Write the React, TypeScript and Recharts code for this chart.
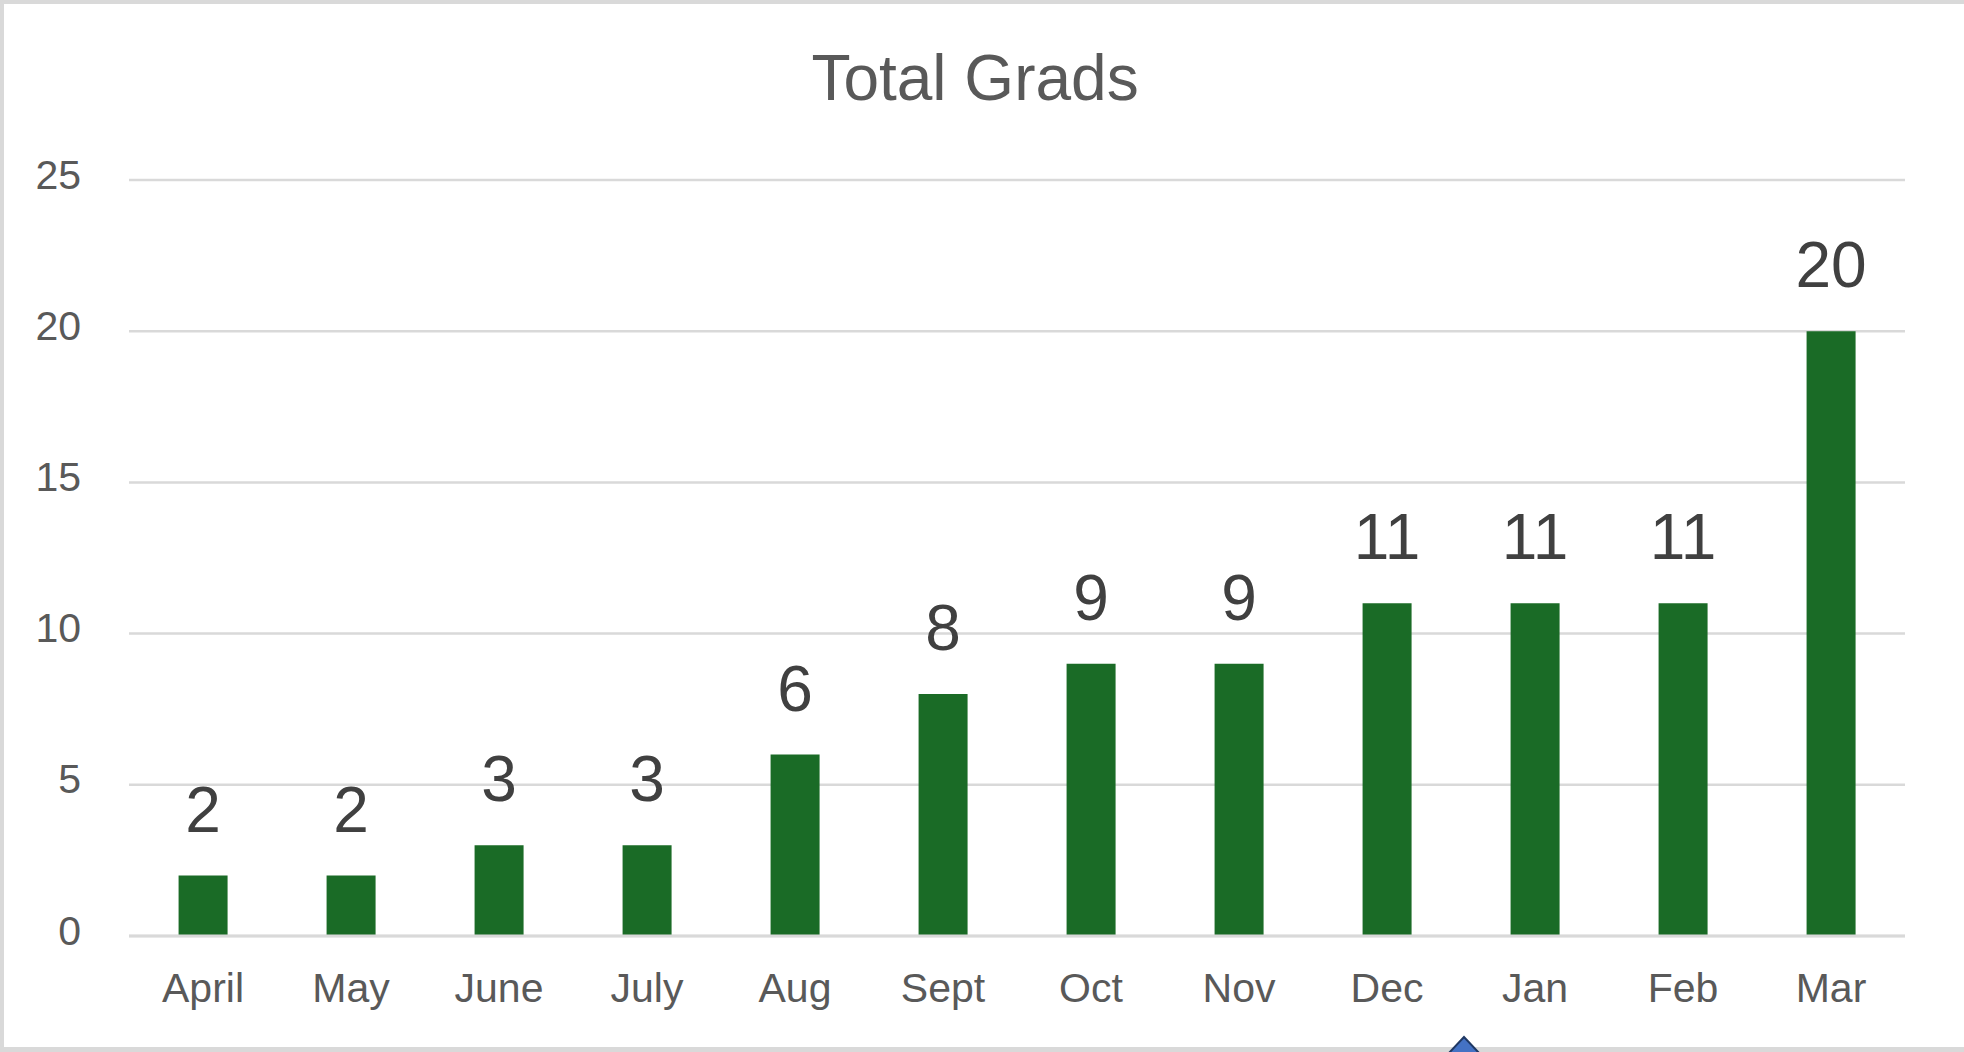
import React from 'react';
import { BarChart, Bar, XAxis, YAxis, CartesianGrid, LabelList } from 'recharts';

const months = ['April', 'May', 'June', 'July', 'Aug', 'Sept', 'Oct', 'Nov', 'Dec', 'Jan', 'Feb', 'Mar'];
const grads = [2, 2, 3, 3, 6, 8, 9, 9, 11, 11, 11, 20];
const yTicks = [0, 5, 10, 15, 20, 25];

const data = months.map((m, i) => ({ month: m, grads: grads[i] }));

const FONT = '"Liberation Sans", Arial, sans-serif';

const App: React.FC = () => {
  return (
    <div
      style={{
        position: 'fixed',
        left: 0,
        top: 0,
        width: 1964,
        height: 1052,
        background: '#ffffff',
        overflow: 'hidden',
        fontFamily: FONT,
      }}
    >
      {/* outer frame: left, top, bottom only */}
      <div
        style={{
          position: 'absolute',
          left: 0,
          top: 0,
          width: 1964,
          height: 1052,
          boxSizing: 'border-box',
          borderTop: '4px solid #d9d9d9',
          borderLeft: '4px solid #d9d9d9',
          borderBottom: '5px solid #d9d9d9',
        }}
      />
      <div
        style={{
          position: 'absolute',
          left: 0,
          top: 38,
          width: 1950,
          textAlign: 'center',
          fontSize: 64,
          color: '#595959',
          lineHeight: '80px',
        }}
      >
        Total Grads
      </div>
      <div style={{ position: 'absolute', left: 0, top: 0 }}>
        <BarChart
          width={1964}
          height={1052}
          data={data}
          margin={{ top: 180, right: 59, left: 0, bottom: 26 }}
          barCategoryGap="33.5%"
        >
          <CartesianGrid vertical={false} stroke="#d9d9d9" strokeWidth={2.5} />
          <XAxis
            dataKey="month"
            height={90}
            tickSize={0}
            tickMargin={37}
            axisLine={{ stroke: '#d9d9d9', strokeWidth: 3 }}
            tick={{ fill: '#595959', fontSize: 41, fontFamily: FONT }}
            interval={0}
          />
          <YAxis
            width={129}
            domain={[0, 25]}
            ticks={yTicks}
            tickSize={0}
            tickMargin={48}
            axisLine={false}
            tick={{ fill: '#595959', fontSize: 41, fontFamily: FONT, dy: -6 }}
          />
          <Bar dataKey="grads" fill="#1a6b26" isAnimationActive={false}>
            <LabelList
              dataKey="grads"
              position="top"
              offset={44}
              fill="#404040"
              fontSize={64}
              fontFamily={FONT}
            />
          </Bar>
        </BarChart>
      </div>
      <svg
        style={{ position: 'absolute', left: 0, top: 0 }}
        width={1964}
        height={1052}
      >
        <polygon
          points="1464,1037 1448,1054 1480,1054"
          fill="#4472c4"
          stroke="#1f3864"
          strokeWidth={2}
        />
      </svg>
    </div>
  );
};

export default App;
